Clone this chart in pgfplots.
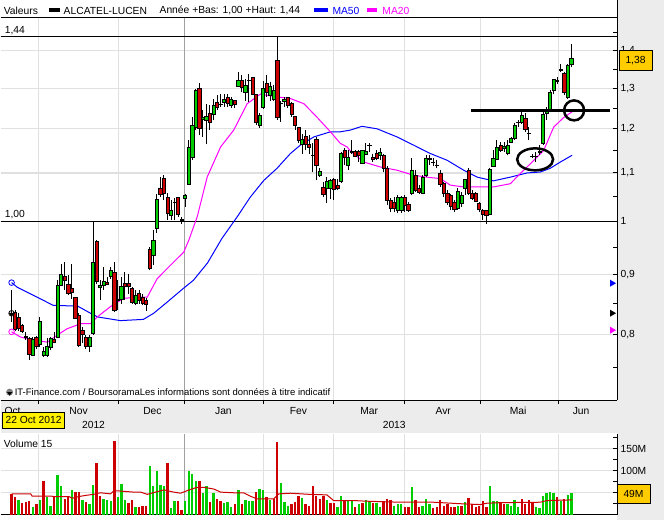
\documentclass[border=0pt]{standalone}
\usepackage{pgfplots}
\pgfplotsset{compat=1.18}
\usepackage{pgfplotstable}
\usepackage{fontspec}
\setmainfont{Liberation Sans}
\definecolor{cgreen}{RGB}{0,204,0}
\definecolor{cred}{RGB}{204,0,0}
\definecolor{bg}{RGB}{236,236,236}
\definecolor{gridc}{RGB}{224,224,224}
\definecolor{yearline}{RGB}{160,160,160}
\definecolor{pricebox}{RGB}{255,204,0}
\definecolor{mablue}{RGB}{0,0,255}
\definecolor{mamag}{RGB}{255,0,255}
\newcommand\fs{\fontsize{10.3bp}{12bp}\selectfont}

\pgfplotstableread{
x o h l c
6 0.768 0.796 0.766 0.792
8 0.785 0.828 0.781 0.821
9 0.767 0.781 0.765 0.774
10 0.767 0.794 0.765 0.781
11 0.780 0.796 0.776 0.794
13 0.795 0.890 0.794 0.882
14 0.882 0.920 0.880 0.901
22 0.781 0.799 0.773 0.796
23 0.801 0.999 0.799 0.922
25 0.878 0.890 0.856 0.881
26 0.882 0.914 0.873 0.889
28 0.897 0.914 0.893 0.907
31 0.857 0.896 0.850 0.879
35 0.850 0.873 0.847 0.864
40 0.935 0.982 0.917 0.963
41 0.986 1.055 0.977 1.044
45 1.012 1.042 1.002 1.022
49 1.046 1.056 1.029 1.053
50 1.076 1.173 1.074 1.156
51 1.135 1.228 1.128 1.208
52 1.203 1.299 1.197 1.295
54 1.223 1.245 1.181 1.228
55 1.220 1.261 1.164 1.230
57 1.234 1.274 1.220 1.257
60 1.265 1.286 1.254 1.271
62 1.257 1.278 1.251 1.271
64 1.305 1.342 1.303 1.320
66 1.290 1.325 1.269 1.308
70 1.208 1.237 1.203 1.232
71 1.251 1.320 1.249 1.299
73 1.282 1.316 1.269 1.305
74 1.271 1.308 1.269 1.295
77 1.267 1.278 1.253 1.272
82 1.164 1.189 1.143 1.175
87 1.094 1.110 1.091 1.104
89 1.067 1.091 1.037 1.081
90 1.067 1.086 1.044 1.084
93 1.081 1.146 1.078 1.143
95 1.117 1.150 1.106 1.135
99 1.121 1.152 1.119 1.150
100 1.141 1.166 1.139 1.149
104 1.139 1.156 1.128 1.146
109 1.022 1.053 1.016 1.049
110 1.022 1.051 1.016 1.048
113 1.056 1.132 1.053 1.106
116 1.057 1.095 1.055 1.090
117 1.095 1.139 1.091 1.132
126 1.025 1.067 1.022 1.060
127 1.036 1.060 1.029 1.053
128 1.067 1.088 1.053 1.086
135 1.014 1.110 1.012 1.107
136 1.115 1.150 1.113 1.132
137 1.129 1.173 1.128 1.156
139 1.155 1.169 1.146 1.159
140 1.144 1.173 1.139 1.162
141 1.169 1.182 1.166 1.178
142 1.177 1.214 1.173 1.208
144 1.216 1.243 1.212 1.232
149 1.146 1.162 1.139 1.148
150 1.166 1.240 1.162 1.235
151 1.237 1.253 1.220 1.245
152 1.245 1.295 1.240 1.290
153 1.295 1.325 1.286 1.322
157 1.278 1.365 1.274 1.360
158 1.364 1.420 1.356 1.380
}\greenc

\pgfplotstableread{
x o h l c
0 0.834 0.873 0.820 0.833
1 0.835 0.839 0.805 0.808
2 0.828 0.834 0.805 0.810
3 0.815 0.816 0.802 0.804
4 0.797 0.804 0.791 0.796
5 0.794 0.796 0.761 0.769
7 0.795 0.797 0.778 0.781
12 0.793 0.804 0.786 0.788
15 0.897 0.923 0.873 0.890
16 0.883 0.899 0.864 0.868
17 0.876 0.919 0.858 0.869
18 0.860 0.861 0.824 0.826
19 0.831 0.834 0.781 0.783
20 0.807 0.812 0.786 0.800
21 0.796 0.799 0.778 0.782
24 0.961 0.963 0.884 0.888
27 0.887 0.896 0.882 0.883
29 0.904 0.923 0.836 0.838
30 0.858 0.890 0.839 0.856
32 0.884 0.905 0.856 0.880
33 0.884 0.902 0.867 0.880
34 0.876 0.879 0.850 0.853
36 0.867 0.873 0.850 0.856
37 0.860 0.867 0.847 0.851
38 0.855 0.859 0.838 0.849
39 0.946 0.951 0.908 0.911
42 1.067 1.091 1.049 1.055
43 1.088 1.095 1.042 1.056
44 1.048 1.057 1.002 1.015
46 1.039 1.046 1.002 1.038
47 1.048 1.049 1.009 1.014
48 1.003 1.009 0.994 1.002
53 1.299 1.313 1.185 1.201
56 1.238 1.257 1.197 1.216
58 1.265 1.282 1.245 1.251
59 1.260 1.286 1.253 1.259
61 1.278 1.286 1.253 1.263
63 1.269 1.271 1.251 1.259
65 1.320 1.334 1.290 1.303
67 1.321 1.338 1.265 1.320
68 1.328 1.329 1.282 1.285
69 1.285 1.286 1.208 1.216
72 1.314 1.334 1.278 1.290
75 1.375 1.440 1.222 1.228
76 1.262 1.269 1.216 1.261
78 1.276 1.279 1.251 1.257
79 1.261 1.265 1.228 1.235
80 1.230 1.232 1.198 1.208
81 1.203 1.204 1.166 1.173
83 1.182 1.197 1.150 1.164
84 1.164 1.185 1.143 1.156
85 1.140 1.166 1.102 1.139
86 1.175 1.181 1.084 1.117
88 1.070 1.081 1.049 1.055
91 1.086 1.089 1.042 1.065
92 1.074 1.088 1.063 1.067
94 1.150 1.155 1.117 1.135
96 1.147 1.173 1.143 1.146
97 1.148 1.150 1.135 1.137
98 1.148 1.150 1.124 1.139
101 1.162 1.167 1.146 1.161
102 1.135 1.143 1.124 1.129
103 1.144 1.150 1.128 1.132
105 1.138 1.143 1.101 1.111
106 1.110 1.115 1.032 1.042
107 1.042 1.046 1.019 1.025
108 1.039 1.049 1.018 1.025
111 1.048 1.053 1.018 1.032
112 1.034 1.038 1.018 1.021
114 1.095 1.106 1.059 1.063
115 1.067 1.074 1.055 1.059
118 1.132 1.139 1.117 1.131
119 1.124 1.132 1.115 1.123
120 1.117 1.128 1.110 1.116
121 1.100 1.106 1.070 1.076
122 1.077 1.081 1.049 1.056
123 1.056 1.063 1.032 1.037
124 1.053 1.056 1.022 1.029
125 1.037 1.042 1.019 1.023
129 1.106 1.110 1.053 1.056
130 1.057 1.063 1.042 1.046
131 1.056 1.060 1.038 1.041
132 1.036 1.039 1.019 1.023
133 1.022 1.025 1.002 1.013
134 1.021 1.022 0.995 1.012
138 1.162 1.169 1.146 1.150
143 1.216 1.222 1.204 1.215
145 1.224 1.237 1.193 1.198
146 1.190 1.204 1.173 1.189
147 1.137 1.143 1.132 1.136
148 1.137 1.146 1.124 1.136
154 1.320 1.329 1.312 1.319
155 1.349 1.365 1.342 1.348
156 1.340 1.342 1.282 1.289
}\redc

\pgfplotstableread{
x v
2 32
6 17
8 32
10 39
11 20
13 89
14 66
17 55
20 34
22 23
23 68
26 36
27 32
28 30
30 41
31 70
32 32
35 18
39 111
40 66
41 100
42 68
43 66
45 15
46 30
49 30
50 100
51 92
52 77
54 48
55 66
57 50
60 26
61 28
62 18
64 56
66 33
67 30
68 30
70 58
71 55
73 34
76 71
77 28
78 20
82 37
89 32
92 18
93 43
95 32
96 32
98 23
100 33
101 30
103 26
104 18
108 20
109 23
110 23
113 62
116 20
117 36
118 23
126 20
128 28
135 66
136 30
137 30
140 23
141 20
142 34
143 18
148 18
149 14
150 43
151 48
152 52
153 50
155 30
157 45
158 49
}\greenv

\pgfplotstableread{
x v
0 47
1 41
3 26
4 28
5 30
7 23
9 77
12 39
15 36
16 39
18 51
19 51
21 28
24 118
25 43
29 168
33 26
34 34
36 18
37 20
38 20
44 118
47 30
48 11
53 77
56 28
58 36
59 30
63 23
65 23
69 52
72 41
74 36
75 166
79 23
80 28
81 43
83 23
84 20
85 66
86 43
87 36
88 43
90 26
91 26
94 32
97 18
99 26
102 26
105 30
106 36
107 32
111 17
112 17
114 32
115 17
119 14
120 18
121 32
122 20
123 24
124 18
125 17
127 20
129 37
130 23
131 17
132 20
133 30
134 18
138 26
139 23
144 36
145 24
146 32
147 26
154 39
156 36
}\redv

\begin{document}
\begin{tikzpicture}
\begin{scope}[x=1bp,y=1bp]
\useasboundingbox (0,0) rectangle (664,520);
\fill[bg] (0,0) rectangle (664,520);
\fill[white] (0,120) rectangle (617,520);
\fill[white] (0,0) rectangle (617,87);
\end{scope}

\begin{axis}[at={(0bp,120bp)}, anchor=south west, scale only axis,
  width=617bp, height=383bp,
  xmin=-3.1, xmax=170.9, ymode=log, ymin=0.7027, ymax=1.495,
  axis x line*=bottom, axis y line*=right,
  axis line style={-, black, line width=1bp},
  ytick={0.8,0.9,1.1,1.2,1.3,1.4},
  yticklabels={{0,8},{0,9},{1,1},{1,2},{1,3},{1,4}},
  minor ytick={0.75,0.85,0.95,1.05,1.15,1.25,1.35,1.45},
  extra y ticks={1,1.44}, extra y tick labels={{1},{}},
  extra y tick style={grid style={black, line width=1bp}},
  ticklabel style={font=\fs},
  tick align=inside, major tick length=4bp, minor tick length=4bp,
  tick style={black, line width=1bp},
  ymajorgrids, xmajorgrids, grid style={gridc, line width=1.2bp},
  xtick={7.62,30.18,71.09,90.83,110.86,132.3,154.3}, xticklabels={},
  extra x ticks={48.8}, extra x tick labels={},
  extra x tick style={grid style={yearline, line width=1.2bp}},
  xtick style={draw=none},
]
% moving averages
\addplot[mablue, line width=1bp, mark=o, mark indices={1}, mark size=2.8bp, mark options={line width=0.8bp}] coordinates {
(0,0.886) (1.6,0.878) (6.2,0.864) (11.8,0.847) (18.6,0.846) (22.3,0.834) (24.3,0.828) (30.7,0.822) (37.2,0.824) (40.1,0.834) (44.0,0.853) (48.5,0.876) (51.3,0.890) (55.3,0.921) (59.4,0.967) (63.7,1.009) (67.4,1.049) (71.2,1.084) (74.9,1.110) (78.7,1.143) (81.5,1.162) (85.3,1.181) (90.0,1.193) (92.8,1.193) (95.6,1.197) (98.9,1.206) (103.2,1.200) (108.8,1.181) (113.5,1.162) (118.2,1.143) (122.9,1.128) (127.6,1.106) (131.4,1.091) (136.0,1.083) (140.8,1.091) (145.5,1.100) (149.2,1.102) (152.0,1.110) (154.9,1.124) (158.2,1.139)};
\addplot[mamag, line width=1bp, mark=o, mark indices={1}, mark size=2.8bp, mark options={line width=0.8bp}] coordinates {
(0,0.804) (2.5,0.796) (6.2,0.791) (10.1,0.788) (12.9,0.799) (15.7,0.809) (19.5,0.817) (22.3,0.817) (24.2,0.828) (27.9,0.845) (31.6,0.859) (36.4,0.861) (38.3,0.861) (41.1,0.893) (45.8,0.923) (48.6,0.941) (50.0,0.963) (52.4,1.009) (55.2,1.091) (59.0,1.158) (62.7,1.197) (66.5,1.261) (70.2,1.285) (75.0,1.278) (78.7,1.274) (82.5,1.261) (86.2,1.228) (90.0,1.193) (92.8,1.166) (94.7,1.158) (95.6,1.149) (99.4,1.124) (104.1,1.113) (108.8,1.106) (113.5,1.095) (118.2,1.090) (121.0,1.088) (123.8,1.074) (127.6,1.070) (132.3,1.070) (136.0,1.070) (140.8,1.077) (143.6,1.099) (146.4,1.120) (150.2,1.150) (153.0,1.204) (155.8,1.227) (158.2,1.241)};
% candles: green
\pgfplotsinvokeforeach{0,...,64}{%
  \pgfplotstablegetelem{#1}{x}\of\greenc \let\cx\pgfplotsretval
  \pgfplotstablegetelem{#1}{o}\of\greenc \let\co\pgfplotsretval
  \pgfplotstablegetelem{#1}{h}\of\greenc \let\ch\pgfplotsretval
  \pgfplotstablegetelem{#1}{l}\of\greenc \let\cl\pgfplotsretval
  \pgfplotstablegetelem{#1}{c}\of\greenc \let\cc\pgfplotsretval
  \pgfmathsetmacro\xa{\cx-0.45}\pgfmathsetmacro\xb{\cx+0.45}%
  \edef\doplot{%
    \noexpand\addplot[black, line width=1bp, forget plot] coordinates {(\cx,\cl) (\cx,\ch)};
    \noexpand\addplot[fill=cgreen, draw=black, line width=0.7bp, forget plot] coordinates {(\xa,\co) (\xb,\co) (\xb,\cc) (\xa,\cc)} -- cycle;
  }\doplot
}
% candles: red
\pgfplotsinvokeforeach{0,...,93}{%
  \pgfplotstablegetelem{#1}{x}\of\redc \let\cx\pgfplotsretval
  \pgfplotstablegetelem{#1}{o}\of\redc \let\co\pgfplotsretval
  \pgfplotstablegetelem{#1}{h}\of\redc \let\ch\pgfplotsretval
  \pgfplotstablegetelem{#1}{l}\of\redc \let\cl\pgfplotsretval
  \pgfplotstablegetelem{#1}{c}\of\redc \let\cc\pgfplotsretval
  \pgfmathsetmacro\xa{\cx-0.45}\pgfmathsetmacro\xb{\cx+0.45}%
  \edef\doplot{%
    \noexpand\addplot[black, line width=1bp, forget plot] coordinates {(\cx,\cl) (\cx,\ch)};
    \noexpand\addplot[fill=cred, draw=black, line width=0.7bp, forget plot] coordinates {(\xa,\co) (\xb,\co) (\xb,\cc) (\xa,\cc)} -- cycle;
  }\doplot
}
% first-candle marker
\addplot[black, only marks, mark=oplus, mark size=2.8bp, mark options={line width=0.8bp}] coordinates {(0,0.834)};
% annotation line
\addplot[black, line width=3bp] coordinates {(129.8,1.2446) (169.0,1.2446)};
\end{axis}

\begin{axis}[at={(0bp,5.5bp)}, anchor=south west, scale only axis,
  width=617bp, height=80.5bp,
  xmin=-3.1, xmax=170.9, ymin=0, ymax=183,
  axis x line*=bottom, axis y line*=right,
  axis line style={-, black, line width=1bp},
  ytick={50,100,150}, yticklabels={{},100M,150M},
  minor ytick={25,75,125,175},
  ticklabel style={font=\fs},
  tick align=inside, major tick length=4bp, minor tick length=4bp,
  tick style={black, line width=1bp},
  ymajorgrids, xmajorgrids, grid style={gridc, line width=1.2bp},
  xtick={7.62,30.18,71.09,90.83,110.86,132.3,154.3}, xticklabels={},
  extra x ticks={48.8}, extra x tick labels={},
  extra x tick style={grid style={yearline, line width=1.2bp}},
  xtick style={draw=none},
]
\addplot[ycomb, cgreen, line width=2.4bp, mark=none] table[x=x, y=v] {\greenv};
\addplot[ycomb, cred, line width=2.4bp, mark=none] table[x=x, y=v] {\redv};
\addplot[cred, line width=1bp, mark=none] coordinates {
(0,47) (5.4,47) (5.8,42) (11,42) (11.9,41) (16.2,41) (17.1,37) (19,41) (21.3,44) (23.2,46) (25.1,49.5) (27.9,47) (28.9,54) (29.8,54) (34.5,51) (36.4,51) (38.3,46) (41.1,52) (43,56) (45.8,51) (47.7,48.5) (49.6,54.5) (52.4,62) (54.2,62) (57.1,58) (59,51) (62.7,49.5) (65.5,49.5) (67.4,41.7) (69.3,35.6) (74,35.6) (75.4,47) (78.7,48.5) (83.9,46) (89,44.7) (90.9,31.8) (96.6,31.8) (100.3,30.3) (109.7,28) (119.1,28) (127.6,24.2) (132.3,22.7) (134.2,25.8) (138,27) (149.2,28) (151.1,31.8) (158.2,33.3)};
\end{axis}

\begin{scope}[x=1bp,y=1bp]
% frame pieces
\draw[black, line width=1bp] (0,503) -- (617,503);
\draw[black, line width=1bp] (617,503) -- (617,520);
% month ticks below the price panel
\foreach \tx in {38,118,184,263,333,404,480,558}
  \draw[black, line width=1bp] (\tx,120) -- (\tx,116);
% annotations (hand-drawn marks on the chart)
\draw[black, line width=2.5bp] (574,410) circle[radius=10bp];
\draw[black, line width=2.5bp] (535,361) ellipse[x radius=18bp, y radius=11bp];
% header
\node[anchor=west, inner sep=0, font=\fs] at (3,510) {Valeurs};
\fill[black] (48,508) rectangle (59,512);
\node[anchor=west, inner sep=0, font=\fs] at (63,510) {ALCATEL-LUCEN};
\node[anchor=west, inner sep=0, font=\fs] at (159,510) {Année +Bas: 1,00 +Haut: 1,44};
\fill[mablue] (314,508) rectangle (328,512);
\node[anchor=west, inner sep=0, font=\fs, text=mablue] at (332,510) {MA50};
\fill[mamag] (367,508) rectangle (377,512);
\node[anchor=west, inner sep=0, font=\fs, text=mamag] at (382,510) {MA20};
\node[anchor=west, inner sep=0, font=\fs] at (4,490) {1,44};
\node[anchor=west, inner sep=0, font=\fs] at (4,306) {1,00};
% right-edge markers
\fill[mablue] (610,240.5) -- (616,237) -- (610,233.5) -- cycle;
\fill[black] (610,210.5) -- (616,207) -- (610,203.5) -- cycle;
\fill[mamag] (610,193.5) -- (616,190) -- (610,186.5) -- cycle;
% price box
\node[draw=black, fill=pricebox, line width=1bp, minimum width=33bp, minimum height=20bp, inner sep=0, font=\fs] at (635.5,460) {1,38};
% footer
\fill[gray] (9,128) circle[radius=3.5bp];
\fill[black] (6.5,128) -- (11.5,128) -- (9,124.5) -- cycle;
\node[anchor=west, inner sep=0, font=\fontsize{9.5bp}{11bp}\selectfont] at (14,128) {IT-Finance.com / BoursoramaLes informations sont données à titre indicatif};
% months
\foreach \m/\xx in {Oct/12,Nov/78,Dec/152,Jan/223,Fev/298,Mar/369,Avr/443,Mai/518,Jun/581}
  \node[inner sep=0, font=\fs] at (\xx,109) {\m};
\node[inner sep=0, font=\fs] at (93,95) {2012};
\node[inner sep=0, font=\fs] at (394,95) {2013};
\node[draw=black, fill=yellow, line width=1bp, minimum width=62bp, minimum height=16bp, inner sep=0, font=\fs] at (33,100) {22 Oct 2012};
% volume panel
\node[anchor=west, inner sep=0, font=\fs] at (3,76) {Volume 15};
\node[draw=black, fill=pricebox, line width=1bp, minimum width=33bp, minimum height=19bp, inner sep=0, font=\fs] at (633.5,26.5) {49M};
\end{scope}
\end{tikzpicture}
\end{document}
